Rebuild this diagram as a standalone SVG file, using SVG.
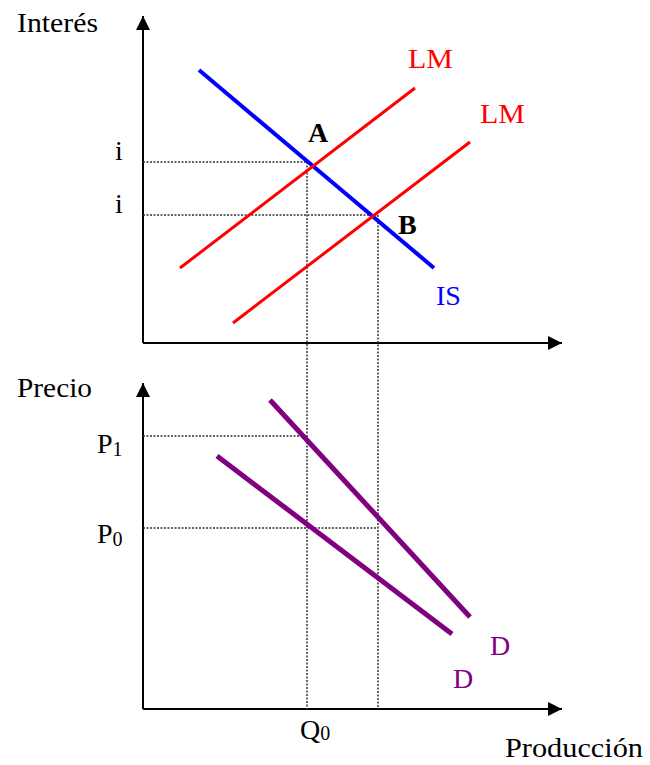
<svg xmlns="http://www.w3.org/2000/svg" width="650" height="765" viewBox="0 0 650 765">
<style>
text{font-family:"Liberation Serif","Times New Roman",serif;font-size:28px;fill:#000}
.axis{stroke:#000;stroke-width:2;fill:none}
.dot{stroke:#333;stroke-width:1.5;stroke-dasharray:2,1.5;fill:none}
.red{stroke:#FF0000;stroke-width:3;fill:none}
.blue{stroke:#0000FF;stroke-width:4;fill:none}
.purple{stroke:#800080;stroke-width:5;fill:none}
.sub{font-size:20px}
</style>
<defs>
<marker id="arrh" viewBox="0 0 10 10" refX="10" refY="5" markerWidth="14" markerHeight="14" markerUnits="userSpaceOnUse" orient="auto">
<path d="M0,0 L10,5 L0,10 Z" fill="#000"/>
</marker>
</defs>
<g id="axes">
<line class="axis" x1="143" y1="343" x2="143" y2="16" marker-end="url(#arrh)"/>
<line class="axis" x1="143" y1="343" x2="562" y2="343" marker-end="url(#arrh)"/>
<line class="axis" x1="143" y1="709" x2="143" y2="383" marker-end="url(#arrh)"/>
<line class="axis" x1="143" y1="709" x2="562" y2="709" marker-end="url(#arrh)"/>
</g>
<g id="connectors">
<line class="dot" x1="143" y1="162" x2="310" y2="162"/>
<line class="dot" x1="143" y1="215" x2="378" y2="215"/>
<line class="dot" x1="307" y1="162" x2="307" y2="709"/>
<line class="dot" x1="378" y1="215" x2="378" y2="709"/>
<line class="dot" x1="143" y1="436" x2="303" y2="436"/>
<line class="dot" x1="143" y1="528" x2="378" y2="528"/>
</g>
<g id="IS">
<line class="blue" x1="199" y1="70" x2="434" y2="268"/>
<text x="436" y="305" style="fill:#0000FF">IS</text>
</g>
<g id="LM1">
<line class="red" x1="180" y1="268" x2="415" y2="88"/>
<text x="408" y="68" style="fill:#FF0000" textLength="45" lengthAdjust="spacingAndGlyphs">LM</text>
</g>
<g id="LM2">
<line class="red" x1="233" y1="323" x2="470" y2="142"/>
<text x="480" y="123" style="fill:#FF0000" textLength="45" lengthAdjust="spacingAndGlyphs">LM</text>
</g>
<g id="D1">
<line class="purple" x1="217" y1="456" x2="452" y2="634"/>
<text x="453" y="688" style="fill:#800080">D</text>
</g>
<g id="D2">
<line class="purple" x1="270" y1="400" x2="470" y2="617"/>
<text x="490" y="655" style="fill:#800080">D</text>
</g>
<g id="labels">
<text x="17" y="32" textLength="81" lengthAdjust="spacingAndGlyphs">Interés</text>
<text x="115" y="160">i</text>
<text x="115" y="213">i</text>
<text x="308" y="142" style="font-weight:bold">A</text>
<text x="398" y="234" style="font-weight:bold">B</text>
<text x="17" y="397" textLength="75" lengthAdjust="spacingAndGlyphs">Precio</text>
<text x="97" y="453">P<tspan class="sub" dy="3">1</tspan></text>
<text x="97" y="543">P<tspan class="sub" dy="3">0</tspan></text>
<text x="300" y="739">Q<tspan class="sub" dy="1">0</tspan></text>
<text x="505" y="757" textLength="138" lengthAdjust="spacingAndGlyphs">Producción</text>
</g>
</svg>
